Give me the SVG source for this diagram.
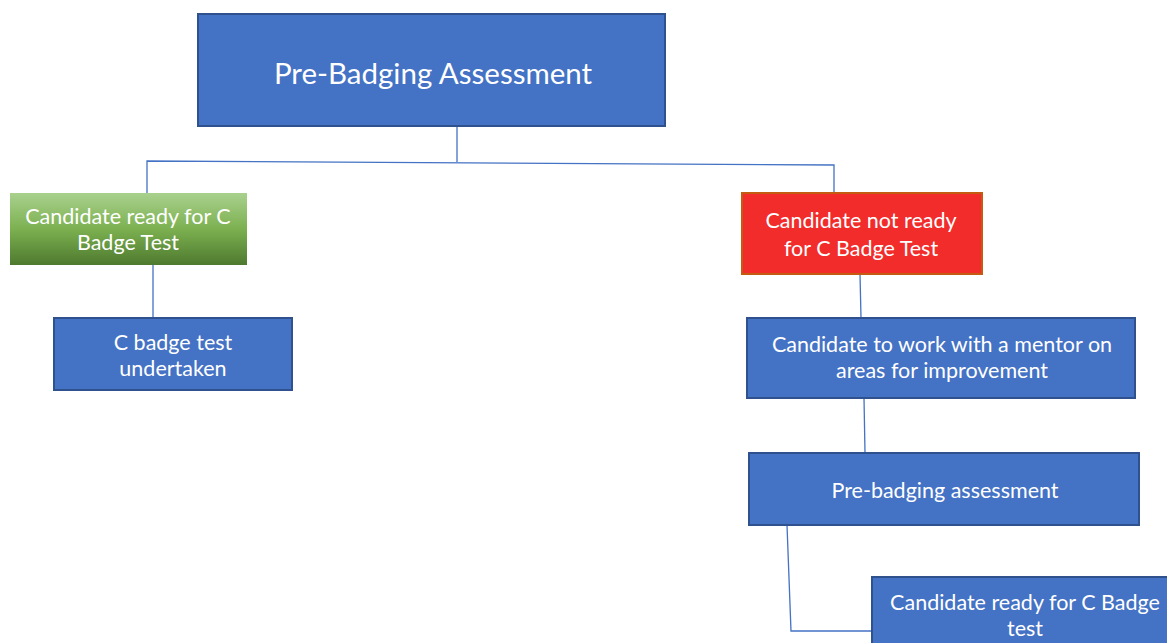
<svg xmlns="http://www.w3.org/2000/svg" width="1167" height="643" viewBox="0 0 1167 643">
<defs>
<linearGradient id="gGreen" x1="0" y1="0" x2="0" y2="1">
<stop offset="0" stop-color="#A9D18E"/>
<stop offset="0.5" stop-color="#7CB050"/>
<stop offset="1" stop-color="#4E7A2F"/>
</linearGradient>
<style>
.blue{fill:#4472C4;stroke:#2F528F;stroke-width:2}
.t{font-family:Lato,"Open Sans","Liberation Sans",sans-serif;fill:#FFFFFF;text-anchor:middle;font-size:21.5px}
.conn{fill:none;stroke:#4472C4;stroke-width:1.3}
</style>
</defs>
<rect width="1167" height="643" fill="#FFFFFF"/>
<g id="connectors">
<polyline class="conn" points="457,126 457,162"/>
<polyline class="conn" points="147,193 147,161 834,165 834,193"/>
<polyline class="conn" points="153,265 153,318"/>
<polyline class="conn" points="860,274 861,318"/>
<polyline class="conn" points="864,398 865,453"/>
<polyline class="conn" points="787,525 791,631 872,631"/>
</g>
<g id="n-top">
<rect class="blue" x="198" y="14" width="467" height="112"/>
<text class="t" x="433" y="84" style="font-size:29.5px">Pre-Badging Assessment</text>
</g>
<g id="n-ready">
<rect x="10" y="193" width="237" height="72" fill="url(#gGreen)"/>
<text class="t" x="128" y="224">Candidate ready for C</text>
<text class="t" x="128" y="250">Badge Test</text>
</g>
<g id="n-test">
<rect class="blue" x="54" y="318" width="238" height="72"/>
<text class="t" x="173" y="350">C badge test</text>
<text class="t" x="173" y="376">undertaken</text>
</g>
<g id="n-notready">
<rect x="742" y="193" width="240" height="81" fill="#F22B2B" stroke="#C55A11" stroke-width="2"/>
<text class="t" x="861" y="228">Candidate not ready</text>
<text class="t" x="861" y="256">for C Badge Test</text>
</g>
<g id="n-mentor">
<rect class="blue" x="747" y="318" width="388" height="80"/>
<text class="t" x="942" y="352">Candidate to work with a mentor on</text>
<text class="t" x="942" y="378">areas for improvement</text>
</g>
<g id="n-prebadge">
<rect class="blue" x="749" y="453" width="390" height="72"/>
<text class="t" x="945" y="498">Pre-badging assessment</text>
</g>
<g id="n-ready2">
<rect class="blue" x="872" y="577" width="300" height="70"/>
<text class="t" x="1025" y="610">Candidate ready for C Badge</text>
<text class="t" x="1025" y="636">test</text>
</g>
</svg>
